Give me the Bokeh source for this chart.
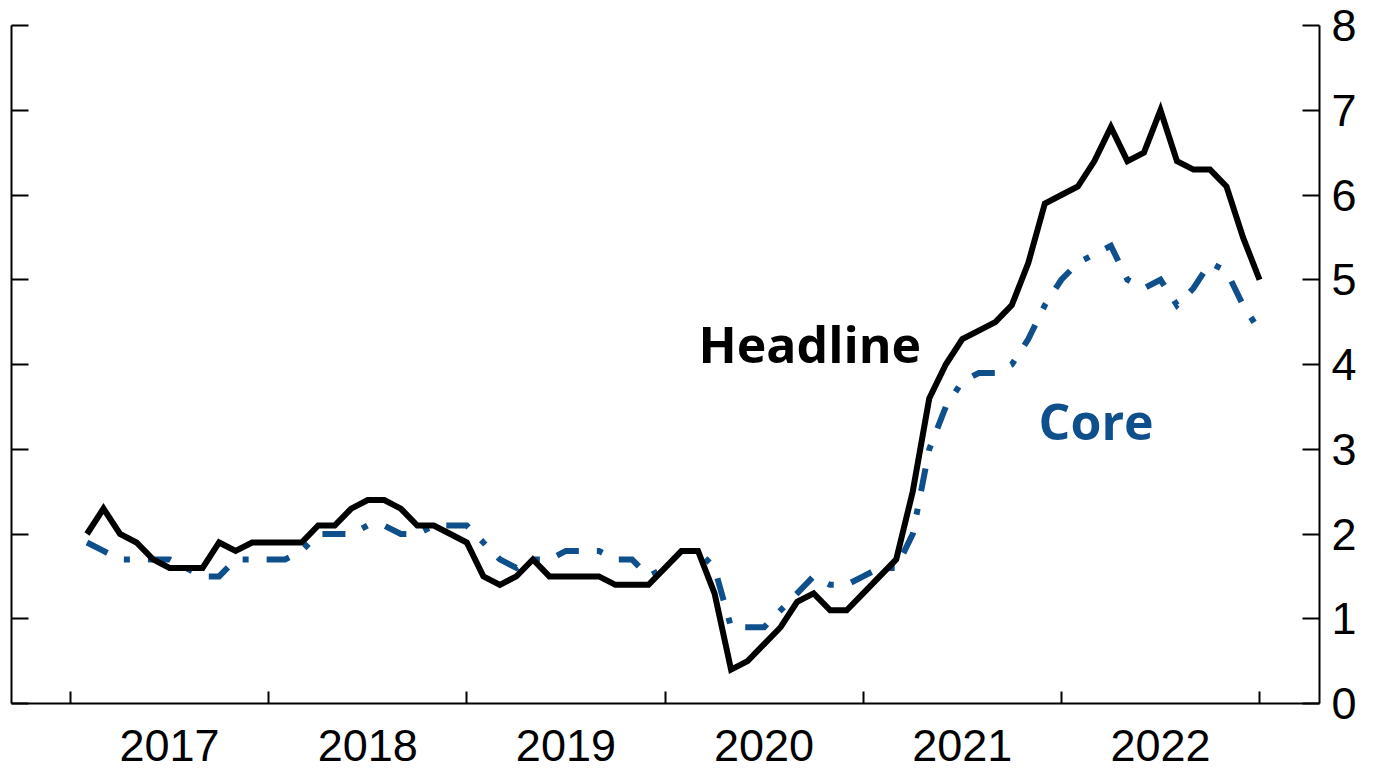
from bokeh.plotting import figure
from bokeh.models import Range1d, LinearAxis, FixedTicker, CustomJSTickFormatter, Label
from bokeh.embed import file_html
from bokeh.resources import INLINE

# ---- data (monthly, Jan 2017 .. Dec 2022) ----
years = ["2017", "2018", "2019", "2020", "2021", "2022"]
headline = [
    2.0, 2.3, 2.0, 1.9, 1.7, 1.6, 1.6, 1.6, 1.9, 1.8, 1.9, 1.9,
    1.9, 1.9, 2.1, 2.1, 2.3, 2.4, 2.4, 2.3, 2.1, 2.1, 2.0, 1.9,
    1.5, 1.4, 1.5, 1.7, 1.5, 1.5, 1.5, 1.5, 1.4, 1.4, 1.4, 1.6,
    1.8, 1.8, 1.3, 0.4, 0.5, 0.7, 0.9, 1.2, 1.3, 1.1, 1.1, 1.3,
    1.5, 1.7, 2.5, 3.6, 4.0, 4.3, 4.4, 4.5, 4.7, 5.2, 5.9, 6.0,
    6.1, 6.4, 6.8, 6.4, 6.5, 7.0, 6.4, 6.3, 6.3, 6.1, 5.5, 5.0,
]
core = [
    1.9, 1.8, 1.7, 1.7, 1.7, 1.7, 1.6, 1.5, 1.5, 1.7, 1.7, 1.7,
    1.7, 1.8, 2.0, 2.0, 2.0, 2.1, 2.1, 2.0, 2.0, 2.1, 2.1, 2.1,
    1.9, 1.7, 1.6, 1.7, 1.7, 1.8, 1.8, 1.8, 1.7, 1.7, 1.5, 1.6,
    1.8, 1.8, 1.6, 0.9, 0.9, 0.9, 1.1, 1.3, 1.5, 1.4, 1.4, 1.5,
    1.6, 1.6, 2.0, 3.0, 3.5, 3.8, 3.9, 3.9, 4.0, 4.3, 4.7, 5.0,
    5.2, 5.3, 5.4, 5.0, 4.9, 5.0, 4.7, 4.9, 5.2, 5.1, 4.7, 4.4,
]
y_ticks = [0, 1, 2, 3, 4, 5, 6, 7, 8]

# month index: 0 = start of 2017; each observation plotted at month end
months = [i + 1 for i in range(len(headline))]
year_bounds = [12 * k for k in range(len(years) + 1)]
year_mids = [12 * k + 6 for k in range(len(years))]

BLUE = "#0f4f8c"
FONT = "Open Sans"
TICK_FONT = "Liberation Sans"

p = figure(
    width=1379, height=772,
    x_range=Range1d(-3.57, 75.63), y_range=Range1d(0, 8),
    output_backend="svg", toolbar_location=None,
    x_axis_location="below", y_axis_location=None,
    min_border_left=11, min_border_top=25, min_border_right=60, min_border_bottom=69,
)
p.outline_line_color = None
p.xgrid.visible = False
p.ygrid.visible = False
p.background_fill_color = "white"
p.border_fill_color = "white"

# x axis: year boundary ticks (as minor ticks) + year labels centred
xa = p.xaxis[0]
xa.ticker = FixedTicker(ticks=year_mids, minor_ticks=year_bounds)
xa.major_label_overrides = {m: y for m, y in zip(year_mids, years)}
xa.major_tick_line_color = None
xa.minor_tick_in = 12
xa.minor_tick_out = 0
xa.minor_tick_line_width = 2
xa.minor_tick_line_color = "black"
xa.axis_line_width = 2
xa.axis_line_color = "black"
xa.major_label_text_font = TICK_FONT
xa.major_label_text_font_size = "45px"
xa.major_label_text_color = "black"
xa.major_label_standoff = 20

# left axis: ticks only
la = LinearAxis(ticker=FixedTicker(ticks=y_ticks),
                formatter=CustomJSTickFormatter(code="return ''"))
la.major_tick_in = 17
la.major_tick_out = 0
la.minor_tick_line_color = None
la.major_tick_line_width = 2
la.axis_line_width = 2
la.major_label_text_font_size = "1px"
la.major_label_standoff = 0
p.add_layout(la, "left")

# right axis: ticks + labels
ra = LinearAxis(ticker=FixedTicker(ticks=y_ticks))
ra.major_tick_in = 17
ra.major_tick_out = 0
ra.minor_tick_line_color = None
ra.major_tick_line_width = 2
ra.axis_line_width = 2
ra.major_label_text_font = TICK_FONT
ra.major_label_text_font_size = "45px"
ra.major_label_text_color = "black"
ra.major_label_standoff = 12
p.add_layout(ra, "right")

p.line(months, core, line_color=BLUE, line_width=6, line_dash="23 18 6 18",
       line_cap="butt", line_join="miter")
p.line(months, headline, line_color="black", line_width=6, line_join="miter")

p.add_layout(Label(x=38.03, y=4.24, text="Headline", text_font=FONT,
                   text_font_style="bold", text_font_size="50px",
                   text_color="black", text_baseline="middle", text_align="left"))
p.add_layout(Label(x=58.62, y=3.33, text="Core", text_font=FONT,
                   text_font_style="bold", text_font_size="50px",
                   text_color=BLUE, text_baseline="middle", text_align="left"))

open("out.html", "w").write(file_html(p, INLINE))
